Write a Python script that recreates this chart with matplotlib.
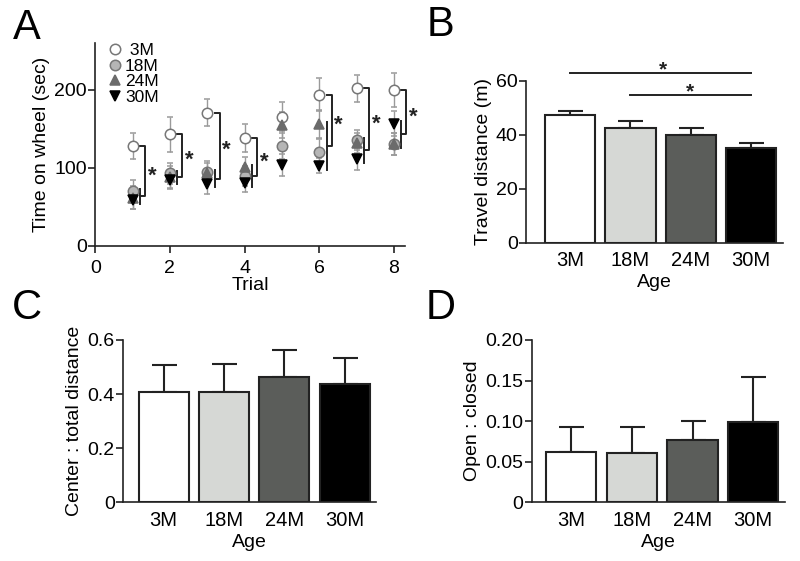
import numpy as np
import matplotlib
matplotlib.use("Agg")
import matplotlib.pyplot as plt
from matplotlib.lines import Line2D

plt.rcParams['font.family'] = ['Liberation Sans', 'DejaVu Sans']
plt.rcParams['font.size'] = 14

# panel A: time on wheel per trial
trials = [1, 2, 3, 4, 5, 6, 7, 8]
m3 = [128, 143, 171, 138, 166, 194, 202, 200]
e3 = [17, 23, 17, 18, 18, 21, 17, 22]
m18 = [70, 93, 95, 90, 128, 121, 136, 131]
e18 = [15, 14, 14, 13, 17, 16, 13, 14]
m24 = [62, 88, 93, 101, 155, 156, 132, 131]
e24 = [15, 14, 14, 13, 17, 18, 13, 14]
m30 = [59, 85, 80, 81, 104, 103, 111, 157]
e30 = [12, 12, 13, 12, 14, 10, 14, 16]
sig_trials = [1, 2, 3, 4, 6, 7, 8]

# panels B-D
ages = ['3M', '18M', '24M', '30M']
travel = [47.3, 42.7, 39.9, 35.0]
travel_err = [1.6, 2.3, 2.5, 2.0]
center = [0.409, 0.409, 0.464, 0.437]
center_err = [0.100, 0.102, 0.099, 0.095]
openclosed = [0.0623, 0.061, 0.0764, 0.0986]
openclosed_err = [0.030, 0.032, 0.0242, 0.0562]

bar_colors = ['white', '#d6d8d5', '#5b5d5a', 'black']
ink = '#222222'

fig = plt.figure(figsize=(8, 5.61), dpi=100)


def style(ax):
    for s in ['top', 'right']:
        ax.spines[s].set_visible(False)
    for s in ['left', 'bottom']:
        ax.spines[s].set_linewidth(1.2)
        ax.spines[s].set_color(ink)
    ax.tick_params(direction='out', length=5, width=1.2, color=ink, pad=1)


# ---- A ----
axA = fig.add_axes([0.119, 0.5615, 0.387, 0.3615])
style(axA)
x = np.array(trials)
series = [
    (m3, e3, 'o', 'white', '#777777', ' 3M'),
    (m18, e18, 'o', '#b5b5b5', '#777777', '18M'),
    (m24, e24, '^', '#6b6b6b', '#6b6b6b', '24M'),
    (m30, e30, 'v', 'black', 'black', '30M'),
]
handles = []
for m, e, mk, fc, ec, lab in series:
    axA.errorbar(x, m, yerr=e, fmt=mk, ms=7.5, mfc=fc, mec=ec, mew=1.1,
                 ecolor='#9a9a9a', elinewidth=1, capsize=2.5, capthick=1,
                 zorder=3)
    handles.append(Line2D([], [], ls='none', marker=mk, ms=7.5, mfc=fc,
                          mec=ec, mew=1.1, label=lab))

for t in sig_trials:
    i = t - 1
    others = [m18[i], m24[i], m30[i]]
    lo, hi = min(others) - 5, max(others) + 3
    mid = (lo + hi) / 2
    xs, xb = t + 0.2, t + 0.33
    axA.plot([xs, xs], [lo, hi], color=ink, lw=1.4, clip_on=False)
    axA.plot([xs, xb, xb, t + 0.2], [mid, mid, m3[i], m3[i]], color=ink,
             lw=1.4, clip_on=False)
    axA.text(t + 0.52, (mid + m3[i]) / 2 - 6, '*', ha='center', va='center',
             fontsize=16, fontweight='bold', color=ink, clip_on=False)

axA.set_xlim(0, 8.29)
axA.set_ylim(0, 260)
axA.set_xticks([0, 2, 4, 6, 8])
axA.set_yticks([0, 100, 200])
axA.tick_params(axis='x', pad=5)
axA.set_xlabel('Trial', labelpad=0)
axA.set_ylabel('Time on wheel (sec)', labelpad=3)
axA.legend(handles=handles, loc='upper left', bbox_to_anchor=(0.04, 1.0),
           frameon=False, fontsize=12.5, handlelength=0.8, handletextpad=0.2,
           labelspacing=0.02, borderpad=0, borderaxespad=0)


def bars(ax, vals, errs, ylim, yticks, yticklabels, ylabel, xlim):
    style(ax)
    pos = np.arange(len(ages))
    ax.bar(pos, vals, width=0.83, color=bar_colors, edgecolor=ink, linewidth=1.5,
           zorder=2)
    ax.errorbar(pos, vals, yerr=[np.zeros(len(vals)), errs], fmt='none',
                ecolor=ink, elinewidth=1.5, capsize=9, capthick=1.5, zorder=1)
    ax.set_xlim(*xlim)
    ax.set_ylim(*ylim)
    ax.set_xticks(pos)
    ax.set_xticklabels(ages, fontsize=14.5)
    ax.tick_params(axis='x', length=0, pad=6)
    ax.set_yticks(yticks)
    ax.set_yticklabels(yticklabels)
    ax.set_xlabel('Age', labelpad=3)
    ax.set_ylabel(ylabel, labelpad=3)


# ---- B ----
axB = fig.add_axes([0.6575, 0.567, 0.3215, 0.289])
bars(axB, travel, travel_err, (0, 60), [0, 20, 40, 60], ['0', '20', '40', '60'],
     'Travel distance (m)', (-0.73, 3.53))
axB.plot([0, 3], [63, 63], color=ink, lw=1.4, clip_on=False)
axB.plot([1, 3], [54.7, 54.7], color=ink, lw=1.4, clip_on=False)
axB.text(1.54, 64.2, '*', ha='center', va='center', fontsize=15,
         fontweight='bold', color=ink)
axB.text(1.99, 56.0, '*', ha='center', va='center', fontsize=15,
         fontweight='bold', color=ink)

# ---- C ----
axC = fig.add_axes([0.154, 0.1046, 0.316, 0.2894])
bars(axC, center, center_err, (0, 0.6), [0, 0.2, 0.4, 0.6],
     ['0', '0.2', '0.4', '0.6'], 'Center : total distance', (-0.67, 3.52))

# ---- D ----
axD = fig.add_axes([0.6646, 0.1046, 0.3164, 0.2894])
bars(axD, openclosed, openclosed_err, (0, 0.2), [0, 0.05, 0.10, 0.15, 0.20],
     ['0', '0.05', '0.10', '0.15', '0.20'], 'Open : closed', (-0.65, 3.52))

for lab, px, py in [('A', 27, 28), ('B', 441, 25), ('C', 27, 308), ('D', 441, 308)]:
    fig.text(px / 800, 1 - py / 561, lab, fontsize=30, ha='center', va='center')

fig.savefig('out.png', dpi=100, facecolor='white')
